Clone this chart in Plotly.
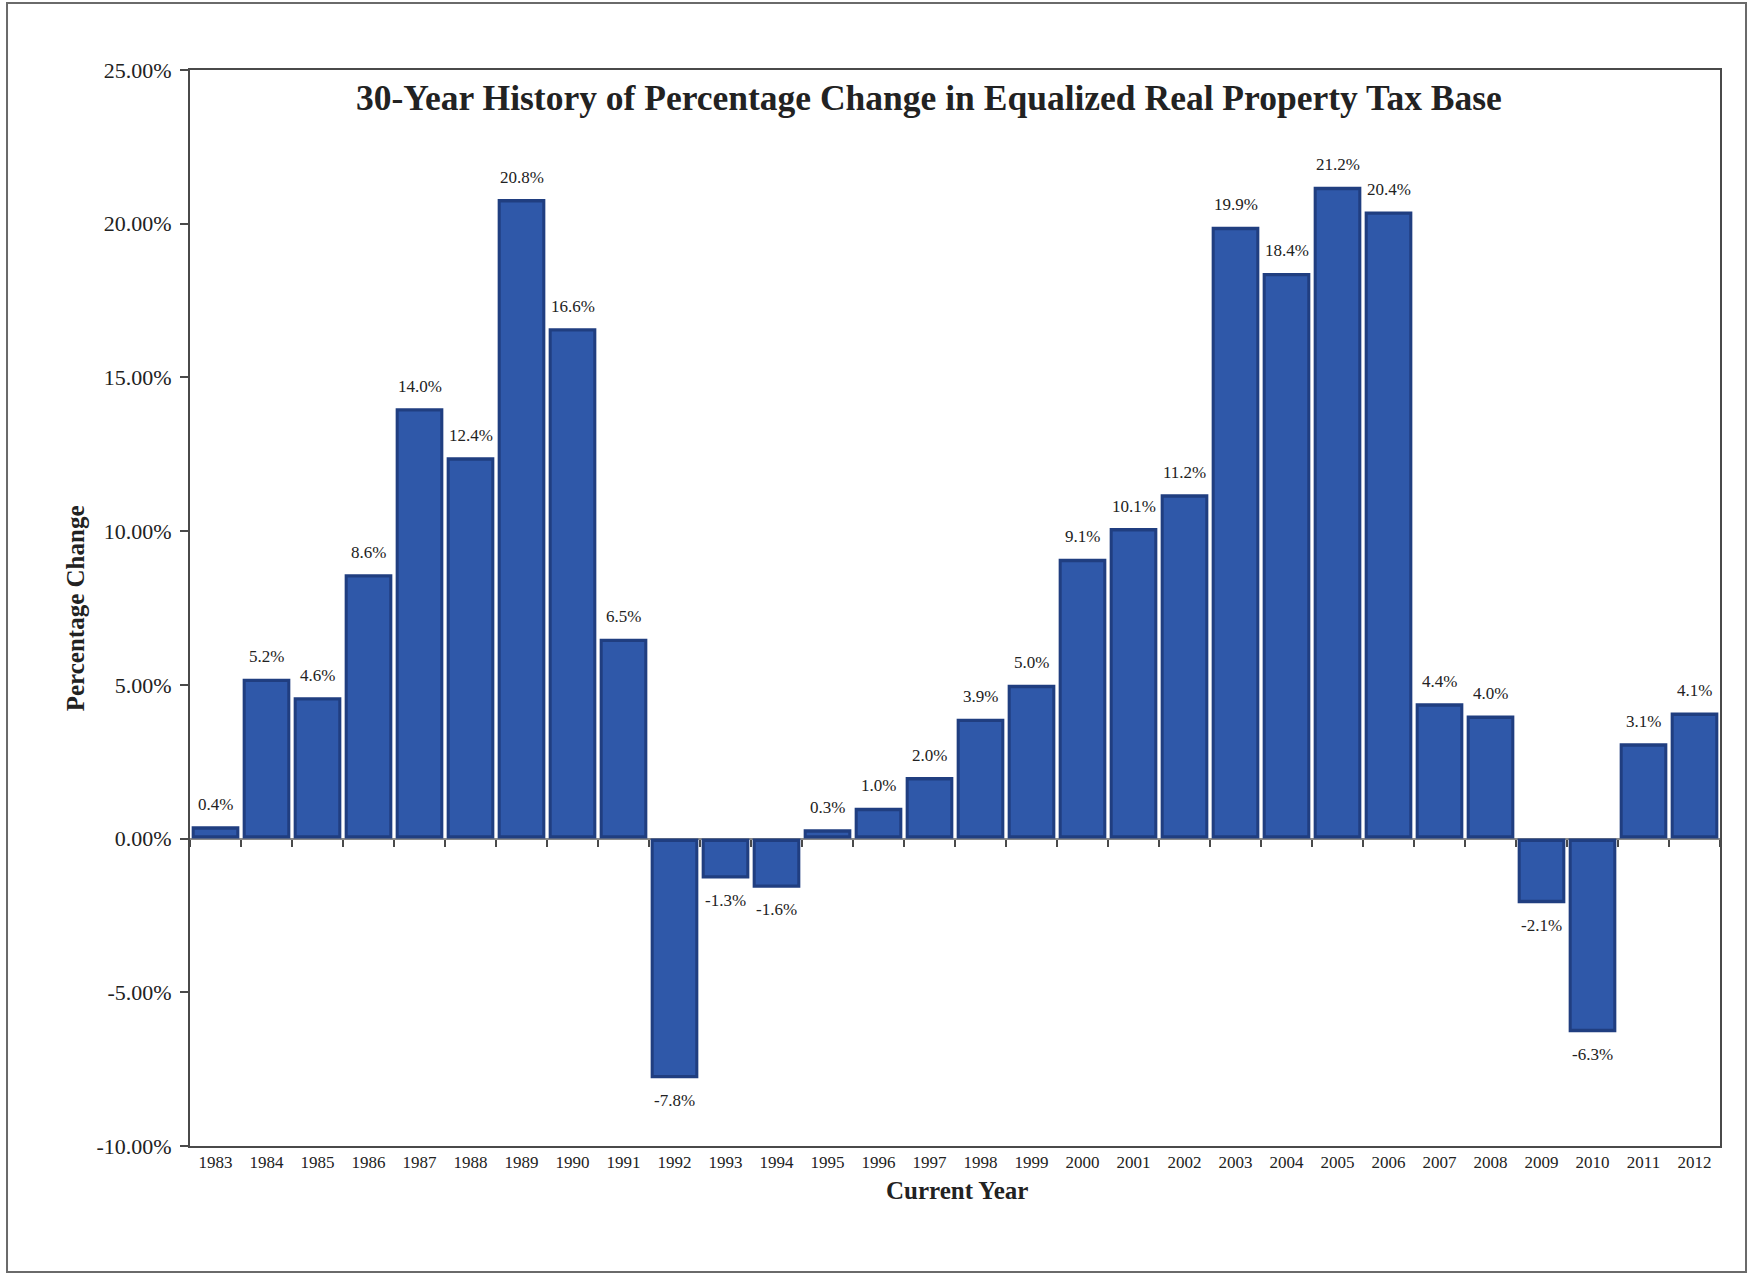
import plotly.graph_objects as go

# Equalized real property tax base: year-over-year percentage change
years = [1983, 1984, 1985, 1986, 1987, 1988, 1989, 1990, 1991, 1992,
         1993, 1994, 1995, 1996, 1997, 1998, 1999, 2000, 2001, 2002,
         2003, 2004, 2005, 2006, 2007, 2008, 2009, 2010, 2011, 2012]
pct_change = [0.4, 5.2, 4.6, 8.6, 14.0, 12.4, 20.8, 16.6, 6.5, -7.8,
              -1.3, -1.6, 0.3, 1.0, 2.0, 3.9, 5.0, 9.1, 10.1, 11.2,
              19.9, 18.4, 21.2, 20.4, 4.4, 4.0, -2.1, -6.3, 3.1, 4.1]
y_ticks = [-10, -5, 0, 5, 10, 15, 20, 25]

frac = [v / 100 for v in pct_change]
boundaries = [years[0] - 0.5] + [y + 0.5 for y in years]

SERIF = "Liberation Serif, Times New Roman, serif"
INK = "#222222"
AXIS = "#4a4a4a"

BAR_W = 0.935    # bar width in category units
RIM = 0.0011     # bevel rim depth in value units
RIM_X = 0.06     # bevel rim width in category units

fig = go.Figure()
# outer (darker) body of each bar gives the bevelled rim
fig.add_trace(go.Bar(
    x=years, y=frac, width=BAR_W,
    marker=dict(color="#203e80", line=dict(width=0)),
    hovertemplate="%{x}: %{y:.1%}<extra></extra>",
))
# lighter face inset inside the rim
sign = [1 if v >= 0 else -1 for v in frac]
fig.add_trace(go.Bar(
    x=years,
    y=[v - s * 2 * RIM for v, s in zip(frac, sign)],
    base=[s * RIM for s in sign],
    width=BAR_W - 2 * RIM_X,
    marker=dict(color="#2f58a9", line=dict(width=0)),
    hoverinfo="skip",
))
# carrier for the tick marks drawn along the zero line
fig.add_trace(go.Scatter(
    x=[years[0]], y=[0], xaxis="x2", mode="markers",
    marker=dict(opacity=0), hoverinfo="skip", showlegend=False,
))

# value labels above positive bars and below negative ones
labels = [
    dict(x=yr, y=v, xref="x", yref="y", text=f"{p:.1f}%",
         showarrow=False, yanchor="middle", yshift=22 if v >= 0 else -22,
         font=dict(family=SERIF, size=17, color=INK))
    for yr, v, p in zip(years, frac, pct_change)
]

fig.update_layout(
    width=1748, height=1275,
    margin=dict(l=190, r=28, t=70, b=129),
    paper_bgcolor="white", plot_bgcolor="white",
    showlegend=False,
    barmode="overlay",
    font=dict(family=SERIF, color=INK),
    xaxis=dict(
        range=[years[0] - 0.5, years[-1] + 0.5],
        tickvals=years, ticktext=[str(y) for y in years],
        tickfont=dict(family=SERIF, size=17, color=INK),
        ticks="", showgrid=False, zeroline=False,
        showline=True, linecolor=AXIS, linewidth=2, mirror=True,
    ),
    xaxis2=dict(
        overlaying="x", anchor="free", position=10 / 35,
        range=[years[0] - 0.5, years[-1] + 0.5],
        tickvals=boundaries, showticklabels=False,
        ticks="outside", ticklen=7, tickwidth=1.5, tickcolor=AXIS,
        showgrid=False, zeroline=False, showline=False,
    ),
    yaxis=dict(
        range=[y_ticks[0] / 100, y_ticks[-1] / 100],
        tickvals=[t / 100 for t in y_ticks],
        ticktext=[f"{t:.2f}%" for t in y_ticks],
        tickfont=dict(family=SERIF, size=22, color=INK),
        ticks="outside", ticklen=8, tickwidth=1.5, tickcolor=AXIS,
        ticklabelstandoff=4,
        showgrid=False,
        zeroline=True, zerolinecolor="#8a8a8a", zerolinewidth=2,
        showline=True, linecolor=AXIS, linewidth=2, mirror=True,
    ),
    annotations=labels + [
        dict(text="<b>30-Year History of Percentage Change in Equalized Real Property Tax Base</b>",
             x=0.483, y=0.974, xref="paper", yref="paper",
             xanchor="center", yanchor="middle",
             showarrow=False, font=dict(family=SERIF, size=35.5, color=INK)),
        dict(text="<b>Current Year</b>",
             x=0.501, y=-0.0418, xref="paper", yref="paper",
             xanchor="center", yanchor="middle",
             showarrow=False, font=dict(family=SERIF, size=25, color=INK)),
        dict(text="<b>Percentage Change</b>", textangle=-90,
             x=-0.075, y=0.5, xref="paper", yref="paper",
             xanchor="center", yanchor="middle",
             showarrow=False, font=dict(family=SERIF, size=25, color=INK)),
    ],
    shapes=[
        # page frame around the whole chart
        dict(type="rect", xref="paper", yref="paper",
             x0=-0.1196, x1=1.017, y0=-0.1171, y1=1.0623,
             line=dict(color="#6a6a6a", width=2), fillcolor="rgba(0,0,0,0)"),
    ],
)

fig.write_html("out.html")
